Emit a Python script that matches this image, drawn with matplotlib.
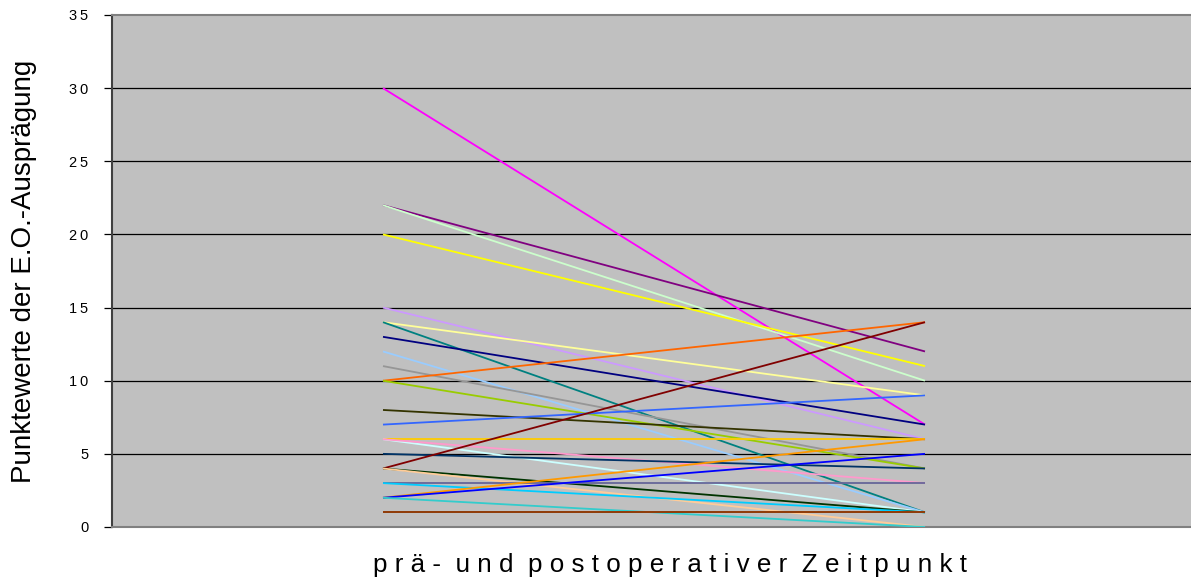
import matplotlib
matplotlib.use("Agg")
import matplotlib.pyplot as plt

# Data: pre- and postoperative scores per patient
categories = ["prä", "post"]
pre_values = [30, 22, 22, 20, 15, 14, 14, 13, 12, 11, 10, 10, 8, 7, 6, 6, 6, 5, 4, 4, 4, 3, 3, 2, 2, 2, 1, 1]
post_values = [7, 12, 10, 11, 6, 9, 1, 7, 1, 4, 14, 4, 6, 9, 6, 1, 3, 4, 14, 1, 0, 3, 1, 6, 5, 0, 1, 1]
line_colors = ["#FF00FF", "#800080", "#CCFFCC", "#FFFF00", "#CC99FF", "#FFFF99", "#008080",
               "#000080", "#99CCFF", "#969696", "#FF6600", "#99CC00", "#333300", "#3366FF",
               "#FFCC00", "#CCFFFF", "#FF99CC", "#003366", "#800000", "#003300", "#FFCC99",
               "#666699", "#00CCFF", "#FF9900", "#0000FF", "#33CCCC", "#339966", "#993300"]
y_ticks = [0, 5, 10, 15, 20, 25, 30, 35]
y_label = "Punktewerte der E.O.-Ausprägung"
x_label = "prä- und postoperativer Zeitpunkt"

plt.rcParams['font.family'] = ['Liberation Sans', 'DejaVu Sans']

W, H = 1191, 586
fig = plt.figure(figsize=(W / 100, H / 100), dpi=100)
ax = fig.add_axes([112 / W, (H - 527) / H, 1084 / W, 512 / H])
ax.set_facecolor("#C0C0C0")

x = list(range(len(categories)))
for pre, post, c in zip(pre_values, post_values, line_colors):
    ax.plot(x, [pre, post], color=c, linewidth=1.3, solid_capstyle="butt", zorder=3)

ax.set_xlim(-0.5, 1.5)
ax.set_ylim(0, 35)
ax.set_yticks(y_ticks)
ax.set_yticklabels(["\u2009".join(str(t)) for t in y_ticks], fontsize=10.5)
ax.set_xticks([])
for t in y_ticks[1:-1]:
    ax.axhline(t, color="black", linewidth=0.9, zorder=1)

ax.tick_params(axis="y", length=6, width=0.9, color="black", pad=11, direction="out")
for s in ["top", "bottom"]:
    ax.spines[s].set_color("#808080")
    ax.spines[s].set_linewidth(1.5)
ax.spines["left"].set_color("#404040")
ax.spines["left"].set_linewidth(1.5)
ax.spines["right"].set_visible(False)

fig.text(24 / W, 1 - 271 / H, y_label, rotation=90, ha="center", va="center", fontsize=20)
spaced = "  ".join(" ".join(word) for word in x_label.split(" "))
fig.text(670 / W, 1 - 565 / H, spaced, ha="center", va="center", fontsize=18.7)

fig.savefig("out.png", dpi=100, facecolor="white")
